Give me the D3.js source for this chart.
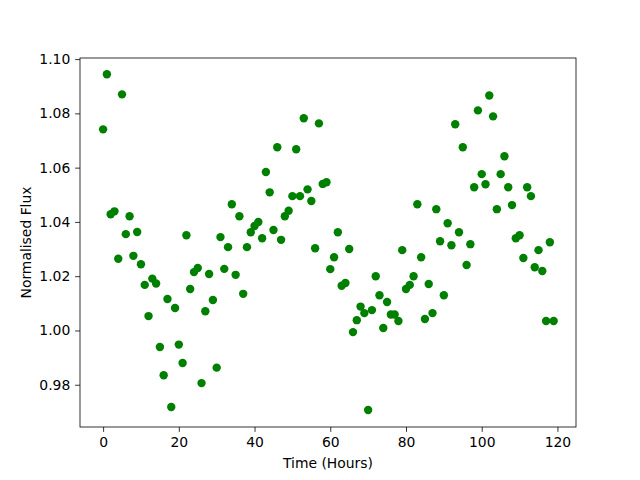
<!DOCTYPE html>
<html>
<head>
<meta charset="utf-8">
<script src="https://cdn.jsdelivr.net/npm/d3@7"></script>
<style>
  html, body { margin: 0; padding: 0; background: #fff; }
  svg { display: block; }
  text { font-family: "DejaVu Sans", sans-serif; }
</style>
</head>
<body>
<script>
const hours = d3.range(0, 120);
const flux = [
  1.0741, 1.0944, 1.0428, 1.0439, 1.0264, 1.0870, 1.0355, 1.0421, 1.0275, 1.0363,
  1.0244, 1.0168, 1.0053, 1.0191, 1.0173, 0.9939, 0.9835, 1.0116, 0.9718, 1.0083,
  0.9948, 0.9880, 1.0351, 1.0153, 1.0215, 1.0230, 0.9806, 1.0071, 1.0208, 1.0112,
  0.9863, 1.0344, 1.0227, 1.0307, 1.0465, 1.0205, 1.0421, 1.0135, 1.0307, 1.0362,
  1.0385, 1.0400, 1.0340, 1.0584, 1.0509, 1.0370, 1.0675, 1.0334, 1.0421, 1.0441,
  1.0495, 1.0668, 1.0495, 1.0782, 1.0520, 1.0477, 1.0303, 1.0763, 1.0540, 1.0546,
  1.0226, 1.0270, 1.0362, 1.0165, 1.0175, 1.0300, 0.9994, 1.0038, 1.0088, 1.0064,
  0.9707, 1.0075, 1.0200, 1.0130, 1.0009, 1.0105, 1.0059, 1.0059, 1.0035, 1.0296,
  1.0153, 1.0168, 1.0200, 1.0465, 1.0270, 1.0042, 1.0171, 1.0064, 1.0447, 1.0329,
  1.0130, 1.0395, 1.0314, 1.0760, 1.0362, 1.0675, 1.0241, 1.0318, 1.0528, 1.0811,
  1.0576, 1.0539, 1.0866, 1.0789, 1.0447, 1.0576, 1.0642, 1.0528, 1.0462, 1.0340,
  1.0351, 1.0267, 1.0528, 1.0495, 1.0233, 1.0296, 1.0219, 1.0035, 1.0325, 1.0035
];
const xTicks = [0, 20, 40, 60, 80, 100, 120];
const yTicks = [0.98, 1.00, 1.02, 1.04, 1.06, 1.08, 1.10];
const xLabel = "Time (Hours)";
const yLabel = "Normalised Flux";

const W = 640, H = 480;
const m = { left: 80, right: 576, top: 58, bottom: 427 };

const svg = d3.select("body").append("svg").attr("width", W).attr("height", H);

const x = d3.scaleLinear().domain([-6.1, 124.9]).range([m.left, m.right]);
const y = d3.scaleLinear().domain([0.96443, 1.1004]).range([m.bottom, m.top]);

const fs = "13.9px";
const tl = 4.86;

const gx = svg.append("g").attr("transform", `translate(0,${m.bottom})`)
  .call(d3.axisBottom(x).tickValues(xTicks).tickSize(tl).tickPadding(4.86).tickSizeOuter(0).tickFormat(d3.format("d")));
const gy = svg.append("g").attr("transform", `translate(${m.left},0)`)
  .call(d3.axisLeft(y).tickValues(yTicks).tickSize(tl).tickPadding(4.86).tickSizeOuter(0).tickFormat(d3.format(".2f")));
[gx, gy].forEach(g => {
  g.select(".domain").remove();
  g.selectAll(".tick line").attr("stroke", "#000").attr("stroke-width", 0.8);
  g.selectAll(".tick text").attr("fill", "#000").style("font-size", fs).style("font-family", "DejaVu Sans");
});

svg.append("g").selectAll("circle").data(hours).join("circle")
  .attr("cx", (d) => x(d))
  .attr("cy", (d, i) => y(flux[i]))
  .attr("r", 4.2)
  .attr("fill", "#008000");

svg.append("rect")
  .attr("x", m.left).attr("y", m.top)
  .attr("width", m.right - m.left).attr("height", m.bottom - m.top)
  .attr("fill", "none").attr("stroke", "#000").attr("stroke-width", 0.8);

svg.append("text")
  .attr("x", (m.left + m.right) / 2).attr("y", 468)
  .attr("text-anchor", "middle").style("font-size", fs).attr("fill", "#000")
  .text(xLabel);

svg.append("text")
  .attr("transform", `translate(31,${(m.top + m.bottom) / 2}) rotate(-90)`)
  .attr("text-anchor", "middle").style("font-size", fs).attr("fill", "#000")
  .text(yLabel);
</script>
</body>
</html>
